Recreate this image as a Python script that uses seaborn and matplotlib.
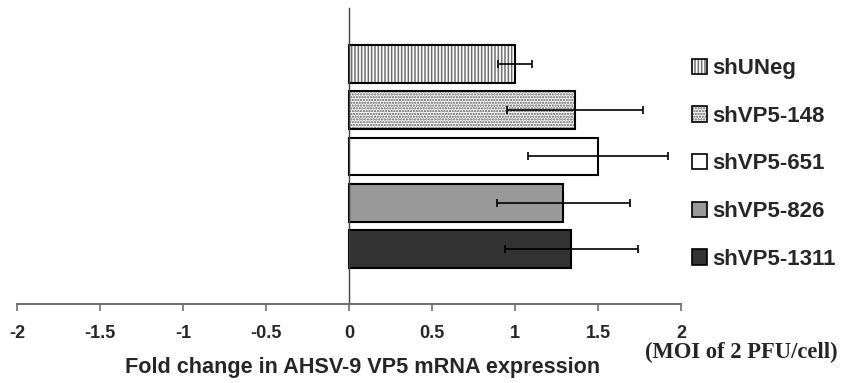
import matplotlib
matplotlib.use("Agg")
import matplotlib.pyplot as plt
from matplotlib.patches import Patch
import seaborn as sns
import pandas as pd

# Knockdown constructs and measured fold change (mean ± error)
constructs = ["shUNeg", "shVP5-148", "shVP5-651", "shVP5-826", "shVP5-1311"]
fold_change = [1.00, 1.36, 1.50, 1.29, 1.34]
fold_error = [0.10, 0.41, 0.42, 0.40, 0.40]
x_ticks = [-2, -1.5, -1, -0.5, 0, 0.5, 1, 1.5, 2]

face_colors = ["white", "white", "white", "#999999", "#333333"]
hatches = ["|||||", "......", "", "", ""]
hatch_colors = ["#707070", "#555555", "black", "black", "black"]

sns.set_theme(style="white")
plt.rcParams["font.family"] = ["Liberation Sans", "DejaVu Sans"]
plt.rcParams["hatch.linewidth"] = 1.1

df = pd.DataFrame({"construct": constructs, "fold": fold_change})

fig = plt.figure(figsize=(8.41, 3.83), dpi=100)
ax = fig.add_axes([17 / 841, 1 - 304 / 383, 664 / 841, 296 / 383])

sns.barplot(data=df, x="fold", y="construct", order=constructs, orient="h",
            width=0.82, ax=ax, errorbar=None, color="white")

for bar, fc, h, hc in zip(ax.patches, face_colors, hatches, hatch_colors):
    bar.set_facecolor(fc)
    bar.set_edgecolor("black")
    bar.set_linewidth(1.5)
    if h:
        bar.set_hatch(h)
        bar._hatch_color = matplotlib.colors.to_rgba(hc)

ax.errorbar(fold_change, range(len(constructs)), xerr=fold_error, fmt="none",
            ecolor="black", elinewidth=1.2, capsize=3, capthick=1.2, zorder=5)

ax.set_xlim(-2, 2)
ax.set_ylim(5.19, -1.21)
ax.set_xticks(x_ticks)
ax.set_xticklabels([f"{t:g}" for t in x_ticks], fontsize=13, fontweight="bold")
ax.set_yticks([])
ax.set_ylabel("")
ax.set_xlabel("")

for side in ["top", "right"]:
    ax.spines[side].set_visible(False)
ax.spines["left"].set_position(("data", 0))
ax.spines["left"].set_color("#404040")
ax.spines["left"].set_linewidth(1.0)
ax.spines["bottom"].set_color("#707070")
ax.spines["bottom"].set_linewidth(1.5)
ax.tick_params(axis="x", bottom=True, direction="out", length=5, width=1.2,
               color="#707070", pad=10)

fig.text(363 / 841, 1 - 367 / 383, "Fold change in AHSV-9 VP5 mRNA expression",
         ha="center", va="center", fontsize=15.6, fontweight="bold")
fig.text(741 / 841, 1 - 352 / 383, "(MOI of 2 PFU/cell)", ha="center", va="center",
         fontsize=16.3, fontweight="bold", family=["Liberation Serif", "DejaVu Serif"])

handles = []
for fc, h, hc in zip(face_colors, hatches, hatch_colors):
    p = Patch(facecolor=fc, edgecolor="black", linewidth=1.2, hatch=h or None)
    if h:
        p._hatch_color = matplotlib.colors.to_rgba(hc)
    handles.append(p)

leg = fig.legend(handles, constructs, loc="upper left",
                 bbox_to_anchor=(692 / 841, 1 - 58 / 383), frameon=False,
                 prop={"weight": "bold", "size": 16}, handlelength=0.68,
                 handleheight=0.68, handletextpad=0.22, labelspacing=1.2,
                 borderaxespad=0, borderpad=0)

fig.savefig("out.png", dpi=100)
